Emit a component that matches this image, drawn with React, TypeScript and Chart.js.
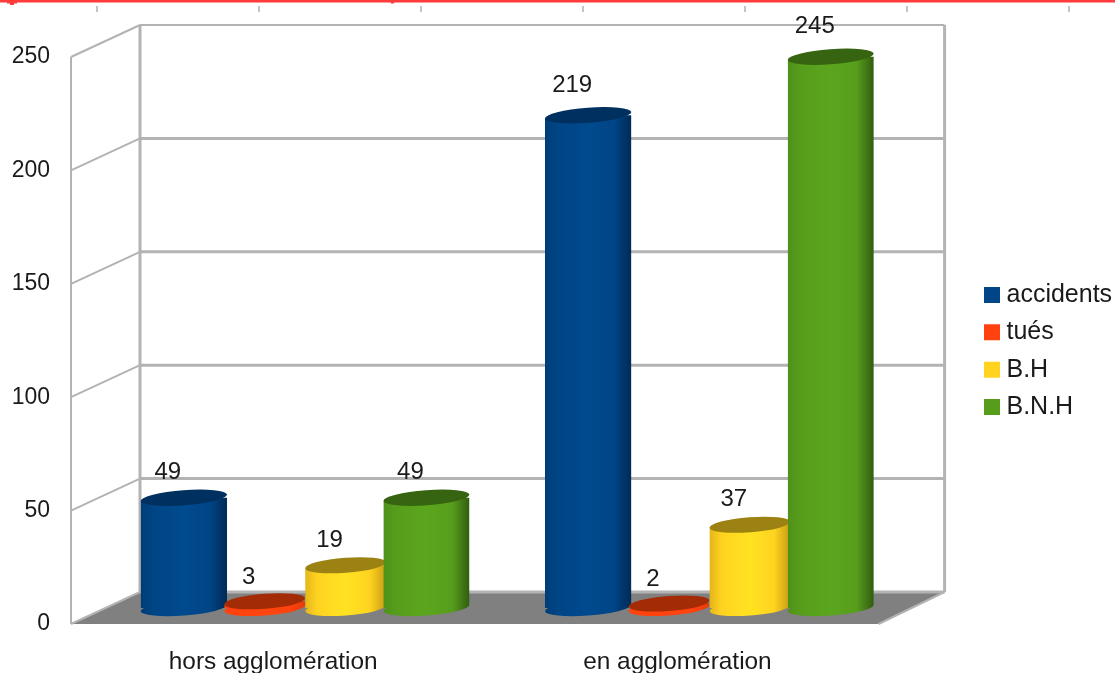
import React, { useEffect, useRef } from "react";
import { Chart, registerables } from "chart.js";

Chart.register(...registerables);

const categories = ["hors agglomération", "en agglomération"];
const seriesNames = ["accidents", "tués", "B.H", "B.N.H"];
const accidents = [49, 219];
const tues = [3, 2];
const blessesHospitalises = [19, 37];
const blessesNonHospitalises = [49, 245];
const valueTicks = [0, 50, 100, 150, 200, 250];

const bodyColors = ["#004586", "#ff420e", "#ffd320", "#579d1c"];
const brightColors = ["#004a8e", "#ff4610", "#ffe222", "#5ba61e"];
const leftEdgeColors = ["#003d77", "#ff420e", "#e3b51a", "#4f9119"];
const rightEdgeColors = ["#002a55", "#e63a0c", "#c79c14", "#315d0f"];
const capColors = ["#00305f", "#a32b06", "#9c8213", "#376410"];
const barScale = [1.07, 1, 1, 1.065];

const INK = "#1a1a1a";
const WALL = "#b3b3b3";
const FLOOR = "#808080";
const FONT = "'Liberation Sans', Arial, sans-serif";

// Offset from the plane of the bars to the back wall; the front plane is the mirror of it.
const DEPTH_X = 36;
const DEPTH_Y = 16;
const CAP_RY = 7.5;
const CAP_TILT = -0.075;

const walls = {
  id: "walls",
  beforeDatasetsDraw(chart: any) {
    const { ctx, chartArea } = chart;
    const y = chart.scales.y;
    const left = chartArea.left;
    const right = chartArea.right;
    const zero = y.getPixelForValue(0);
    const backL = left + DEPTH_X + 1;
    const backR = right + 33;
    const frontL = left - 32;
    const frontR = right - 33;

    ctx.save();
    ctx.fillStyle = FLOOR;
    ctx.beginPath();
    ctx.moveTo(frontL, zero + DEPTH_Y);
    ctx.lineTo(backL, zero - DEPTH_Y);
    ctx.lineTo(backR, zero - DEPTH_Y);
    ctx.lineTo(frontR, zero + DEPTH_Y);
    ctx.closePath();
    ctx.fill();

    ctx.strokeStyle = WALL;
    for (const v of valueTicks) {
      const p = y.getPixelForValue(v);
      ctx.lineWidth = 2;
      ctx.beginPath();
      ctx.moveTo(frontL, p + DEPTH_Y);
      ctx.lineTo(backL, p - DEPTH_Y);
      ctx.stroke();
      ctx.lineWidth = v === 250 ? 2 : 3;
      ctx.beginPath();
      ctx.moveTo(backL, p - DEPTH_Y);
      ctx.lineTo(backR, p - DEPTH_Y);
      ctx.stroke();
    }
    const top = y.getPixelForValue(250);
    ctx.lineWidth = 2;
    ctx.beginPath();
    ctx.moveTo(frontL, top + DEPTH_Y);
    ctx.lineTo(frontL, zero + DEPTH_Y);
    ctx.stroke();
    ctx.lineWidth = 3;
    for (const x of [backL, backR]) {
      ctx.beginPath();
      ctx.moveTo(x, top - DEPTH_Y);
      ctx.lineTo(x, zero - DEPTH_Y);
      ctx.stroke();
    }
    ctx.lineWidth = 2;
    ctx.beginPath();
    ctx.moveTo(backR, zero - DEPTH_Y);
    ctx.lineTo(frontR, zero + DEPTH_Y);
    ctx.stroke();
    ctx.restore();
  },
};

// Draws the series left to right so each cylinder overlaps the one before it.
const cylinders = {
  id: "cylinders",
  beforeDatasetDraw() {
    return false;
  },
  afterDatasetsDraw(chart: any) {
    const { ctx } = chart;
    chart.data.datasets.forEach((_: any, si: number) => {
      const meta = chart.getDatasetMeta(si);
      meta.data.forEach((el: any) => {
        const l = el.x - el.width / 2;
        const r = el.x + el.width / 2;
        const g = ctx.createLinearGradient(l, 0, r, 0);
        g.addColorStop(0, leftEdgeColors[si]);
        g.addColorStop(0.15, bodyColors[si]);
        g.addColorStop(0.5, brightColors[si]);
        g.addColorStop(0.8, bodyColors[si]);
        g.addColorStop(1, rightEdgeColors[si]);
        el.options = { ...el.options, backgroundColor: g, borderWidth: 0 };

        ctx.fillStyle = g;
        ctx.beginPath();
        ctx.ellipse(el.x, el.base, el.width / 2, CAP_RY, CAP_TILT, 0, Math.PI * 2);
        ctx.fill();

        // The body's ends follow the tilt of its caps.
        const t = Math.tan(-CAP_TILT) * (el.width / 2);
        ctx.save();
        ctx.beginPath();
        ctx.moveTo(l, el.y + t);
        ctx.lineTo(r, el.y - t);
        ctx.lineTo(r, el.base - t);
        ctx.lineTo(l, el.base + t);
        ctx.closePath();
        ctx.clip();
        el.draw(ctx);
        ctx.restore();

        ctx.fillStyle = capColors[si];
        ctx.beginPath();
        ctx.ellipse(el.x, el.y, el.width / 2, CAP_RY, CAP_TILT, 0, Math.PI * 2);
        ctx.fill();
      });
    });

    // Value labels sit on the front plane, up and to the left of each cap;
    // the gap widens slightly with height to follow the perspective.
    ctx.save();
    ctx.fillStyle = INK;
    ctx.font = `24px ${FONT}`;
    ctx.textAlign = "center";
    ctx.textBaseline = "middle";
    chart.data.datasets.forEach((ds: any, si: number) => {
      chart.getDatasetMeta(si).data.forEach((el: any, i: number) => {
        const gap = 24 + (el.base - el.y) * 0.012;
        ctx.fillText(String(ds.data[i]), el.x - 16, el.y - gap);
      });
    });
    ctx.restore();
  },
};

// Rule line and ruler marks along the top edge of the page.
const pageTop = {
  id: "pageTop",
  beforeDraw(chart: any) {
    const { ctx, width } = chart;
    ctx.save();
    ctx.fillStyle = "#ff3b3b";
    ctx.fillRect(0, 0, width, 2.5);
    ctx.fillRect(7, 2, 10, 1.5);
    ctx.fillRect(10, 2, 4, 3);
    ctx.fillRect(391, 2, 3, 1.5);
    ctx.fillStyle = "#c4c4c4";
    for (let i = 0; i < 7; i++) {
      ctx.fillRect(96 + i * 162, 6, 2, 6);
    }
    ctx.restore();
  },
};

// Moves the legend over to its final place once the layout has settled.
const legendPlacement = {
  id: "legendPlacement",
  afterLayout(chart: any) {
    const lg = chart.legend;
    const dx = 990 - lg.left - 12.3;
    const dy = -6;
    lg.left += dx;
    lg.right += dx;
    lg.top += dy;
    lg.bottom += dy;
  },
};

export default function App() {
  const ref = useRef<HTMLCanvasElement>(null);

  useEffect(() => {
    const chart = new Chart(ref.current!, {
      type: "bar",
      data: {
        labels: categories,
        datasets: [accidents, tues, blessesHospitalises, blessesNonHospitalises].map((data, i) => ({
          label: seriesNames[i],
          data,
          yAxisID: "yBars",
          backgroundColor: bodyColors[i],
          borderColor: bodyColors[i],
          borderWidth: 12,
          categoryPercentage: 0.8,
          barPercentage: barScale[i],
        })),
      },
      options: {
        animation: false,
        responsive: false,
        layout: { padding: { top: 41, right: 59, left: 0, bottom: 0 } },
        plugins: {
          title: { display: false },
          tooltip: { enabled: false },
          legend: {
            position: "right",
            labels: {
              boxWidth: 4,
              boxHeight: 4,
              padding: 12.3,
              color: INK,
              font: { family: FONT, size: 25 },
            },
          },
        },
        scales: {
          x: {
            grid: { display: false },
            border: { display: false },
            ticks: {
              color: INK,
              font: { family: FONT, size: 24.4 },
              labelOffset: -32,
              padding: 32,
              maxRotation: 0,
            },
            afterFit(s: any) {
              s.height = 65;
            },
          },
          y: {
            min: 0,
            max: 250,
            grid: { display: false, drawTicks: false },
            border: { display: false },
            afterBuildTicks(s: any) {
              s.ticks = valueTicks.map((value) => ({ value }));
            },
            ticks: {
              color: INK,
              font: { family: FONT, size: 23 },
              labelOffset: 16,
              padding: 53,
            },
            afterFit(s: any) {
              s.width = 103;
              s.paddingTop = 0;
              s.paddingBottom = 0;
            },
          },
          yBars: {
            display: false,
            min: 0,
            max: 252,
          },
        },
      },
      plugins: [walls, cylinders, pageTop, legendPlacement],
    } as any);
    return () => chart.destroy();
  }, []);

  return (
    <div style={{ position: "fixed", left: 0, top: 0, width: 1115, height: 673, background: "#ffffff" }}>
      <canvas ref={ref} width={1115} height={673} style={{ display: "block" }} />
    </div>
  );
}
